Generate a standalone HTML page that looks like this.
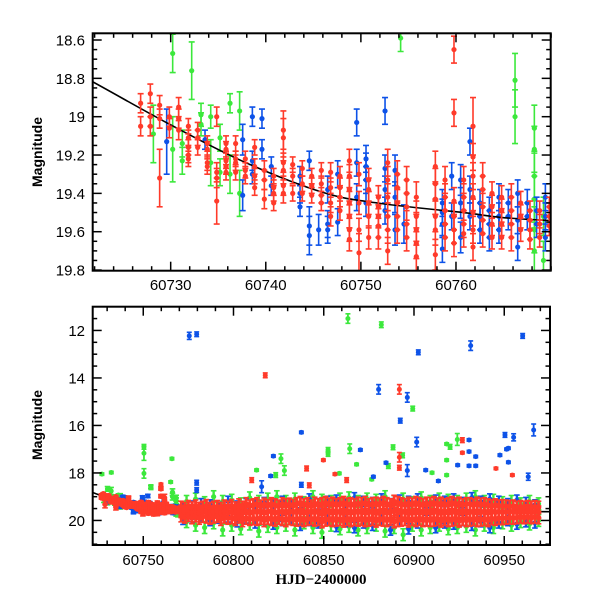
<!DOCTYPE html>
<html><head><meta charset="utf-8"><style>
html,body{margin:0;padding:0;background:#fff;}
svg{display:block;font-family:"Liberation Sans",Arial,sans-serif;}
</style></head><body>
<svg id="chart" width="600" height="600" viewBox="0 0 600 600" xmlns="http://www.w3.org/2000/svg">
<defs>
<clipPath id="clipTop"><rect x="92.7" y="33.3" width="458" height="237.4"/></clipPath>
<clipPath id="clipBot"><rect x="92.7" y="306.7" width="457.3" height="238.3"/></clipPath>
</defs>
<g id="topPanel">
<g id="topData" clip-path="url(#clipTop)"></g>
<rect x="92.7" y="33.3" width="458" height="237.4" fill="none" stroke="#000" stroke-width="2"/>
<g id="topTicks"></g>
<text x="42" y="152" transform="rotate(-90 42 152)" text-anchor="middle" font-size="14" font-weight="bold">Magnitude</text>
</g>
<g id="botPanel">
<g id="botData" clip-path="url(#clipBot)"></g>
<rect x="92.7" y="306.7" width="457.3" height="238.3" fill="none" stroke="#000" stroke-width="2"/>
<g id="botTicks"></g>
<text x="42" y="425" transform="rotate(-90 42 425)" text-anchor="middle" font-size="14" font-weight="bold">Magnitude</text>
<text x="321" y="584" text-anchor="middle" font-size="15" font-weight="bold" font-family="Liberation Serif, serif">HJD−2400000</text>
</g>
</svg>
<script>
// ---------- top-panel data (clusters: time, mags, error) ----------
const redT = [60726.84,60727.86,60728.84,60728.84,60729.86,60730.84,60731.86,60732.84,60733.85,60734.84,60734.84,60735.82,60736.83,60737.85,60738.83,60739.85,60740.83,60741.85,60741.85,60742.83,60743.84,60744.83,60745.84,60746.82,60747.8,60748.79,60749.8,60749.8,60750.82,60751.84,60752.82,60753.83,60754.81,60755.83,60757.83,60758.85,60759.79,60759.79,60760.81,60761.79,60761.79,60762.81,60763.79,60764.8,60765.82,60766.8,60767.78,60768.8,60769.82];
const redM = [[18.93,19.05],[18.88,19.0,19.05],[18.94,19.01],[19.32],[19.0,19.06],[18.95,19.01,19.07],[19.05,19.11,19.16,19.2,19.22],[19.07,19.11,19.16],[19.14,19.17,19.24,19.26],[19.0,19.29,19.32],[19.44],[19.14,19.17,19.23,19.26,19.29],[19.14,19.22,19.24,19.29],[19.22,19.28,19.31],[19.16,19.26,19.31,19.37],[19.28,19.33,19.43],[19.31,19.37,19.4,19.45],[19.07,19.11],[19.24,19.28,19.36,19.4],[19.25,19.31,19.4],[19.27,19.35,19.4],[19.31,19.36,19.41],[19.28,19.35,19.41,19.45],[19.29,19.37,19.45,19.52],[19.31,19.37,19.42,19.49],[19.23,19.31,19.38,19.45,19.52,19.59,19.64],[19.3,19.45,19.59],[19.71],[19.33,19.38,19.45,19.52,19.63],[19.42,19.47,19.52,19.57,19.63],[19.24,19.33,19.42,19.52,19.59,19.7],[19.3,19.37,19.45,19.52,19.59],[19.33,19.4,19.47,19.56,19.63],[19.42,19.52,19.59,19.66,19.73],[19.26,19.35,19.43,19.52,19.59,19.72],[19.33,19.42,19.49,19.56,19.63],[18.65,18.98],[19.44,19.52,19.59,19.66],[19.33,19.42,19.49,19.56,19.61],[19.05],[19.21,19.31,19.42,19.5,19.59,19.68],[19.31,19.38,19.47,19.54,19.61],[19.4,19.47,19.56,19.63],[19.42,19.49,19.56,19.63],[19.42,19.49,19.56,19.63],[19.45,19.52,19.59],[19.49,19.54,19.59,19.64],[19.49,19.56,19.63],[19.47,19.52,19.57]];
const redE = [0.05,0.05,0.05,0.15,0.05,0.05,0.04,0.04,0.04,0.05,0.12,0.04,0.04,0.04,0.04,0.05,0.04,0.1,0.05,0.04,0.04,0.04,0.04,0.05,0.05,0.06,0.06,0.1,0.06,0.06,0.07,0.07,0.07,0.08,0.08,0.07,0.07,0.07,0.07,0.15,0.07,0.07,0.06,0.06,0.07,0.06,0.05,0.05,0.05];

const blueT = [60729.58,60733.61,60737.57,60738.59,60739.6,60740.58,60743.6,60744.58,60744.58,60745.56,60746.51,60747.56,60749.56,60750.54,60752.54,60753.59,60754.53,60758.57,60759.55,60760.49,60761.47,60762.53,60763.51,60764.52,60765.5,60766.49,60767.5,60768.48,60769.4];
const blueM = [[19.13],[19.12],[19.12,19.41],[19.0,19.23,19.3],[19.01,19.17],[19.26,19.36],[19.31,19.4,19.47],[19.23],[19.57,19.62],[19.59],[19.38,19.56,19.59],[19.3,19.55],[19.03,19.24,19.42],[19.22,19.26,19.33,19.45],[18.97,19.27,19.38,19.49],[19.28,19.42,19.59],[19.56],[19.45,19.5,19.56,19.69],[19.31,19.52],[19.33,19.45,19.63],[19.13,19.38,19.52],[19.45,19.52,19.59],[19.49,19.56,19.63],[19.42,19.52,19.59],[19.45,19.52],[19.4,19.54,19.68],[19.45,19.52],[19.49,19.56],[19.42,19.52,19.63]];
const blueE = [0.17,0.05,0.08,0.05,0.05,0.05,0.05,0.05,0.1,0.08,0.07,0.07,0.07,0.07,0.07,0.08,0.1,0.07,0.07,0.08,0.07,0.07,0.07,0.07,0.07,0.07,0.07,0.07,0.07];

const greenT = [60728.18,60730.21,60730.21,60731.22,60732.21,60733.19,60734.21,60734.21,60735.19,60736.24,60736.24,60737.25,60737.25,60754.18,60766.21,60768.24,60769.2];
const greenM = [[19.09],[18.67],[19.17],[19.14,19.23],[18.76],[18.99,19.04],[19.0],[19.24],[19.11,19.29],[18.93],[19.3],[18.97],[19.4],[18.59],[18.81,19.0],[19.06,19.17,19.31,19.43,19.59,19.7],[19.52,19.75]];
const greenE = [0.15,0.1,0.17,0.07,0.15,0.06,0.06,0.12,0.07,0.05,0.1,0.1,0.12,0.07,0.14,0.12,0.1];

// ---------- bottom-panel additional data (after 60770) ----------
const bandRedT = [60771,60773,60775,60777,60779,60781,60783,60785,60787,60789,60791,60793,60795,60797,60799,60801,60803,60805,60807,60809,60811,60813,60815,60817,60819,60821,60823,60825,60827,60829,60831,60833,60835,60837,60839,60841,60843,60845,60847,60849,60851,60853,60855,60857,60859,60861,60863,60865,60867,60869,60871,60873,60875,60877,60879,60881,60883,60885,60887,60889,60891,60893,60895,60897,60899,60901,60903,60905,60907,60909,60911,60913,60915,60917,60919,60921,60923,60925,60927,60929,60931,60933,60935,60937,60939,60941,60943,60945,60947,60949,60951,60953,60955,60957,60959,60961,60963,60965,60967,60969];
const bandRedM = [[19.45,19.62,19.8],[19.5,19.68,19.85],[19.42,19.6,19.78],[19.48,19.66,19.88],[19.4,19.58,19.8],[19.5,19.7,19.9],[19.45,19.62,19.82],[19.38,19.6,19.85],[19.5,19.68,19.9],[19.45,19.65,19.85],
[19.42,19.62,19.82],[19.5,19.7,19.95],[19.4,19.6,19.85],[19.45,19.68,19.9],[19.38,19.62,19.88],[19.48,19.7,19.95],[19.35,19.6,19.85],[19.45,19.65,20.0],[19.3,19.6,19.9],[19.4,19.7,19.95],
[19.35,19.62,19.92],[19.3,19.65,19.95],[19.4,19.6,19.9],[19.32,19.66,20.0],[19.38,19.62,19.9],[19.3,19.6,19.95],[19.35,19.68,19.98],[19.4,19.65,19.9],[19.3,19.62,19.95],[19.35,19.7,20.0],
[19.32,19.6,19.92],[19.38,19.65,19.95],[19.3,19.62,19.98],[19.25,19.6,19.95],[19.35,19.68,20.0],[19.3,19.62,19.95],[19.4,19.66,19.92],[19.28,19.6,19.98],[19.35,19.65,19.95],[19.3,19.7,20.05],
[19.25,19.62,19.98],[19.32,19.65,19.95],[19.28,19.6,20.0],[19.35,19.66,19.98],[19.3,19.62,19.95],[19.25,19.65,20.02],[19.32,19.6,19.95],[19.3,19.68,20.0],[19.35,19.62,19.95],[19.28,19.65,19.98],
[19.3,19.6,19.95],[19.25,19.62,20.0],[19.35,19.66,19.98],[19.3,19.6,19.95],[19.28,19.65,20.02],[19.32,19.62,19.95],[19.25,19.6,19.98],[19.3,19.68,20.0],[19.35,19.62,19.95],[19.2,19.6,20.05],
[19.25,19.62,20.0],[19.3,19.65,19.98],[19.35,19.6,19.95],[19.28,19.66,20.02],[19.32,19.62,19.95],[19.25,19.65,20.0],[19.3,19.6,19.95],[19.35,19.68,20.0],[19.28,19.62,19.98],[19.3,19.65,20.0],
[19.25,19.6,19.98],[19.32,19.62,19.95],[19.28,19.66,20.02],[19.35,19.6,19.95],[19.3,19.65,20.0],[19.25,19.62,19.98],[19.32,19.6,19.95],[19.28,19.68,20.02],[19.35,19.62,19.95],[19.3,19.6,20.0],
[19.3,19.62,19.98],[19.35,19.65,19.95],[19.28,19.6,20.0],[19.32,19.66,19.98],[19.3,19.62,19.95],[19.35,19.65,20.0],[19.4,19.6,19.92],[19.35,19.66,19.95],[19.4,19.62,19.9],[19.38,19.65,19.92],
[19.4,19.62,19.9],[19.42,19.65,19.88],[19.4,19.6,19.9],[19.45,19.66,19.88],[19.42,19.62,19.85],[19.45,19.65,19.88],[19.42,19.6,19.85],[19.45,19.66,19.88],[19.42,19.62,19.85],[19.45,19.65,19.88]];
const bandBlueT = [60772,60777,60782,60787,60792,60797,60802,60807,60812,60817,60822,60827,60832,60837,60842,60847,60852,60857,60862,60867,60872,60877,60882,60887,60892,60897,60902,60907,60912,60917,60922,60927,60932,60937,60942,60947,60952,60957,60962,60967];
const bandBlueM = [[19.5,19.95],[19.4,19.9],[19.3,19.8],[19.35,20.0],[19.45,19.9],[19.2,19.85],[19.4,20.05],[19.3,19.9],[19.35,20.1],[19.25,19.95],
[19.3,20.15],[19.2,20.0],[19.35,19.9],[19.25,20.2],[19.1,20.0],[19.3,20.1],[19.2,19.95],[19.15,20.25],[19.3,20.05],[19.05,20.3],
[19.2,20.1],[19.25,20.2],[19.1,19.95],[19.3,20.4],[19.15,20.0],[19.2,20.35],[19.1,20.1],[19.25,20.0],[19.15,20.3],[19.2,20.1],
[19.1,20.15],[19.25,20.0],[19.05,20.2],[19.2,20.05],[19.1,20.3],[19.2,20.1],[19.3,20.0],[19.15,20.15],[19.25,20.05],[19.35,20.1]];
const bandGreenT = [60774,60779,60784,60789,60794,60799,60804,60809,60814,60819,60824,60829,60834,60839,60844,60849,60854,60859,60864,60869,60874,60879,60884,60889,60894,60899,60904,60909,60914,60919,60924,60929,60934,60939,60944,60949,60954,60959,60964,60969];
const bandGreenM = [[19.2,20.05],[19.1,20.2],[19.25,20.3],[19.0,20.1],[19.2,20.4],[19.15,20.2],[19.3,20.35],[19.05,20.15],[19.2,20.45],[19.1,20.25],
[19.0,20.3],[19.2,20.2],[19.1,20.4],[19.25,20.1],[19.0,20.3],[19.15,20.5],[19.2,20.2],[19.1,20.35],[19.05,20.25],[19.2,20.4],
[19.1,20.3],[19.15,20.2],[19.0,20.45],[19.2,20.3],[19.1,20.6],[19.25,20.2],[19.05,20.4],[19.2,20.3],[19.1,20.2],[19.15,20.35],
[19.2,20.3],[19.1,20.25],[19.0,20.4],[19.2,20.2],[19.15,20.3],[19.25,20.1],[19.2,20.2],[19.3,20.05],[19.2,20.15],[19.3,20.0]];
const outBlueT = [60775.5,60779.6,60837.6,60779.6,60779.6,60822.1,60820.6,60815.6,60837.6,60902.4,60931.4,60960.2,60880.4,60896.3,60892.4,60901.5,60966.3,60870.3,60930.5,60930.5,60934.2,60930.5,60934.2,60950.4,60955.2,60951.3,60952.3,60947.6,60952.3,60884.5,60896.3,60906.5,60913.5,60924.2,60963.3,60877.5];
const outBlueM = [12.23,12.16,16.29,18.41,18.72,17.29,18.13,18.58,18.5,12.92,12.64,12.23,14.48,14.82,15.8,16.7,16.19,17.03,16.61,17.1,17.31,17.7,17.7,16.4,16.5,17.0,16.96,17.25,17.55,17.57,17.9,17.88,18.34,17.67,18.16,18.16];
const outBlueE = [0.15,0.1,0.05,0.1,0.1,0.05,0.05,0.25,0.1,0.1,0.2,0.1,0.2,0.2,0.1,0.2,0.25,0.05,0.05,0.05,0.05,0.05,0.05,0.1,0.15,0.05,0.05,0.05,0.05,0.05,0.25,0.05,0.05,0.05,0.15,0.05];
const outRedT = [60817.6,60759.8,60759.8,60810.1,60840.5,60842,60891.9,60926.8,60926.8,60849.8,60891.9,60891.9,60945.4,60954.5,60856.2,60862.7];
const outRedM = [13.89,18.48,18.68,18.3,17.81,18.52,14.48,16.62,17.15,17.46,17.34,17.78,17.81,18.09,18.05,18.3];
const outRedE = [0.1,0.05,0.05,0.1,0.1,0.1,0.2,0.1,0.05,0.05,0.2,0.1,0.05,0.05,0.05,0.1];
const outGreenT = [60750.4,60750.4,60750.4,60727.1,60732.3,60765.9,60754.3,60765.2,60812.8,60826.3,60828.2,60823.4,60863.4,60881.9,60899.3,60864.4,60888.4,60924,60918.1,60920,60852.4,60852.4,60868.2,60893.7,60885.8,60910,60918.1,60918.1,60858.6,60876.6];
const outGreenM = [17.17,16.9,18.02,18.05,17.98,17.4,18.6,18.38,17.88,17.4,17.9,18.09,11.5,11.76,15.29,16.98,16.92,16.59,16.78,16.9,17.03,17.2,17.64,17.26,17.71,17.99,17.46,18.09,18.02,18.27];
const outGreenE = [0.3,0.1,0.2,0.05,0.05,0.05,0.1,0.05,0.05,0.2,0.2,0.1,0.2,0.12,0.1,0.2,0.1,0.25,0.05,0.1,0.1,0.1,0.05,0.1,0.1,0.05,0.05,0.05,0.05,0.05];
const bandE = [0.26, 0.22, 0.25];

// ---------- model curve control points ----------
const curveT = [60715,60721.5,60729.9,60737.9,60746,60751.7,60760.8,60769.2,60800,60900,60980];
const curveM = [18.64,18.81,19.04,19.24,19.395,19.45,19.5,19.54,19.6,19.62,19.63];

// ---------- axis ticks ----------
const topXMajor = [60730,60740,60750,60760];
const topYMajor = [18.6,18.8,19,19.2,19.4,19.6,19.8];
const topYLabels = ["18.6","18.8","19","19.2","19.4","19.6","19.8"];
const botXMajor = [60750,60800,60850,60900,60950];
const botYMajor = [12,14,16,18,20];

const COLORS = {red:'#ff3a2a', blue:'#0d52e8', green:'#3ce83c'};
const NS = 'http://www.w3.org/2000/svg';

const xTop = t => 92.7 + (t - 60721.8) * 9.51;
const yTop = m => 33.3 + (m - 18.565) * 191.7;
const xBot = t => 92.7 + (t - 60722) * 1.805;
const yBot = m => 306.7 + (m - 11) * 23.75;

function mk(tag, attrs, parent){
  const el = document.createElementNS(NS, tag);
  for (const k in attrs) el.setAttribute(k, attrs[k]);
  parent.appendChild(el);
  return el;
}

function drawPoint(parent, t, m, e, color, xs, ys, r, cap, name, sw){
  const x = xs(t), y = ys(m), y1 = ys(m - e), y2 = ys(m + e);
  const g = mk('g', {}, parent);
  
  
  mk('line', {x1:x, x2:x, y1:y1, y2:y2, stroke:color, 'stroke-width':sw}, g);
  mk('line', {x1:x-cap, x2:x+cap, y1:y1, y2:y1, stroke:color, 'stroke-width':1.6}, g);
  mk('line', {x1:x-cap, x2:x+cap, y1:y2, y2:y2, stroke:color, 'stroke-width':1.6}, g);
  mk('circle', {cx:x, cy:y, r:r, fill:color}, g);
}

function drawClusters(parent, T, M, E, color, xs, ys, r, cap, name, sw){
  for (let i = 0; i < T.length; i++){
    const e = Array.isArray(E) ? E[i] : E;
    for (const m of M[i]) drawPoint(parent, T[i], m, e, color, xs, ys, r, cap, name, sw || 1.6);
  }
}
function drawSingles(parent, T, M, E, color, xs, ys, r, cap, name){
  for (let i = 0; i < T.length; i++) drawPoint(parent, T[i], M[i], E[i], color, xs, ys, r, cap, name, 1.8);
}

function drawCurve(parent, xs, ys, name){
  const pts = curveT.map((t,i)=>[xs(t), ys(curveM[i])]);
  let d = 'M' + pts[0][0] + ',' + pts[0][1];
  for (let i = 0; i < pts.length - 1; i++){
    const p0 = pts[Math.max(0,i-1)], p1 = pts[i], p2 = pts[i+1], p3 = pts[Math.min(pts.length-1,i+2)];
    const c1 = [p1[0] + (p2[0]-p0[0])/6, p1[1] + (p2[1]-p0[1])/6];
    const c2 = [p2[0] - (p3[0]-p1[0])/6, p2[1] - (p3[1]-p1[1])/6];
    d += ' C' + c1 + ' ' + c2 + ' ' + p2;
  }
  const path = mk('path', {d:d, fill:'none', stroke:'#000', 'stroke-width':1.6}, parent);
  
  
}

// ---- top panel ----
const topData = document.getElementById('topData');
drawClusters(topData, greenT, greenM, greenE, COLORS.green, xTop, yTop, 2.6, 3, 'green-point');
drawClusters(topData, blueT, blueM, blueE, COLORS.blue, xTop, yTop, 2.6, 3, 'blue-point');
drawCurve(topData, xTop, yTop, 'top-model-curve');
drawClusters(topData, redT, redM, redE, COLORS.red, xTop, yTop, 2.6, 3, 'red-point');

// ---- bottom panel ----
const botData = document.getElementById('botData');
drawClusters(botData, bandGreenT, bandGreenM, bandE[2], COLORS.green, xBot, yBot, 2.6, 2.8, 'green-point', 2.4);
drawClusters(botData, bandBlueT, bandBlueM, bandE[1], COLORS.blue, xBot, yBot, 2.6, 2.8, 'blue-point', 2.4);
drawClusters(botData, greenT, greenM, greenE, COLORS.green, xBot, yBot, 2.6, 2.8, 'green-point', 2.4);
drawClusters(botData, blueT, blueM, blueE, COLORS.blue, xBot, yBot, 2.6, 2.8, 'blue-point', 2.4);
drawSingles(botData, outGreenT, outGreenM, outGreenE, COLORS.green, xBot, yBot, 2.5, 2.5, 'green-outlier');
drawSingles(botData, outBlueT, outBlueM, outBlueE, COLORS.blue, xBot, yBot, 2.5, 2.5, 'blue-outlier');
drawCurve(botData, xBot, yBot, 'bottom-model-curve');
drawClusters(botData, redT, redM, redE, COLORS.red, xBot, yBot, 2.8, 2.8, 'red-point', 2.6);
drawClusters(botData, bandRedT, bandRedM, bandE[0], COLORS.red, xBot, yBot, 2.8, 2.8, 'red-point', 2.8);
drawSingles(botData, outRedT, outRedM, outRedE, COLORS.red, xBot, yBot, 2.5, 2.5, 'red-outlier');

// ---- ticks ----
function tickLine(parent, x1, y1, x2, y2){
  mk('line', {x1:x1, y1:y1, x2:x2, y2:y2, stroke:'#000', 'stroke-width':1.5}, parent);
}
function label(parent, x, y, txt, anchor, name){
  const t = mk('text', {x:x, y:y, 'text-anchor':anchor, 'font-size':15}, parent);
  t.textContent = txt;
  
  
}
// top
const tt = document.getElementById('topTicks');
for (let t = 60722; t <= 60770; t += 2){
  const x = xTop(t), major = topXMajor.includes(t), L = major ? 9 : 4.5;
  tickLine(tt, x, 270.7, x, 270.7 - L); tickLine(tt, x, 33.3, x, 33.3 + L);
}
topXMajor.forEach(t => label(tt, xTop(t), 290, String(t), 'middle', 'top-x-tick-label'));
for (let k = 0; k <= 24; k++){
  const m = 18.6 + k*0.05, y = yTop(m), major = (k % 4 === 0), L = major ? 9 : 4.5;
  tickLine(tt, 92.7, y, 92.7 + L, y); tickLine(tt, 550.7, y, 550.7 - L, y);
}
topYMajor.forEach((m,i) => label(tt, 85, yTop(m) + 5.5, topYLabels[i], 'end', 'top-y-tick-label'));
// bottom
const bt = document.getElementById('botTicks');
for (let t = 60730; t <= 60970; t += 10){
  const x = xBot(t), major = botXMajor.includes(t), L = major ? 9 : 4.5;
  tickLine(bt, x, 545, x, 545 - L); tickLine(bt, x, 306.7, x, 306.7 + L);
}
botXMajor.forEach(t => label(bt, xBot(t), 565, String(t), 'middle', 'bottom-x-tick-label'));
for (let k = 0; k <= 19; k++){
  const m = 11.5 + k*0.5, y = yBot(m), major = botYMajor.includes(m), L = major ? 9 : 4.5;
  tickLine(bt, 92.7, y, 92.7 + L, y); tickLine(bt, 550, y, 550 - L, y);
}
botYMajor.forEach(m => label(bt, 85, yBot(m) + 5.5, String(m), 'end', 'bottom-y-tick-label'));
</script>
</body></html>
